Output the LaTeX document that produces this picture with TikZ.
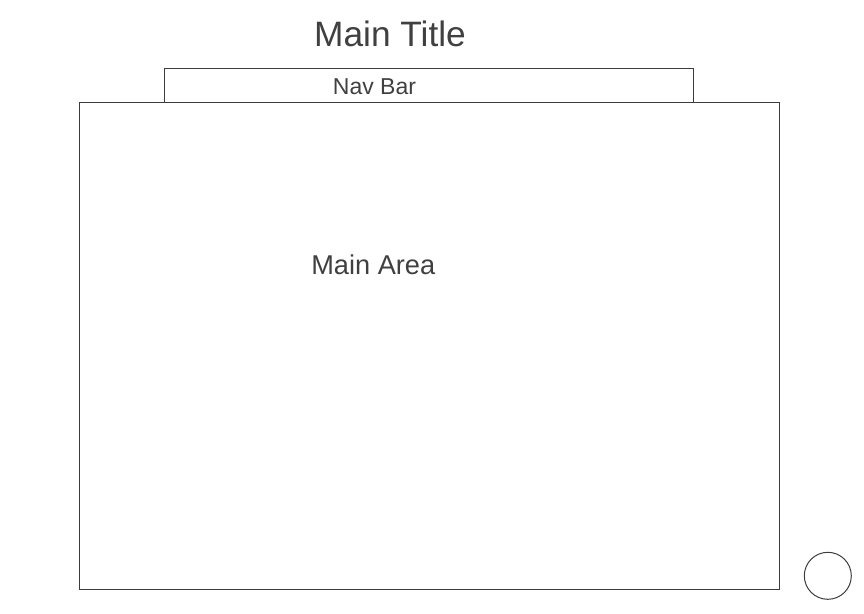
\documentclass[tikz,border=0pt]{standalone}
\usepackage{fontspec}
\setmainfont{Liberation Sans}
\usetikzlibrary{positioning}
\definecolor{ink}{HTML}{404040}
\definecolor{edge}{HTML}{3C3C3C}
\tikzset{
  frame/.style={rectangle, draw=edge, line width=1pt, inner sep=0pt},
  lbl/.style={text=ink, inner sep=0pt, anchor=base},
  knob/.style={circle, draw=edge, line width=1pt, inner sep=0pt, minimum size=47pt}
}
\begin{document}
\begin{tikzpicture}[x=1pt, y=-1pt]
    \useasboundingbox (0,0) rectangle (864,613);

    % Boxes
    \node[frame, minimum width=529pt, minimum height=34pt] (nav) at (428.5, 85) {};
    \node[frame, fill=white, minimum width=700pt, minimum height=487pt] (main) at (429, 345.5) {};

    % Round button at bottom right
    \node[knob] (btn) at (827.8, 575.8) {};

    % Labels
    \node[lbl, font=\fontsize{35.3}{40}\selectfont] (title) at (390, 46.7) {Main Title};
    \node[lbl, font=\fontsize{23}{27}\selectfont] (navlbl) at (374.5, 94) {Nav Bar};
    \node[lbl, font=\fontsize{27.2}{32}\selectfont] (mainlbl) at (373.3, 274.3) {Main Area};
\end{tikzpicture}
\end{document}
